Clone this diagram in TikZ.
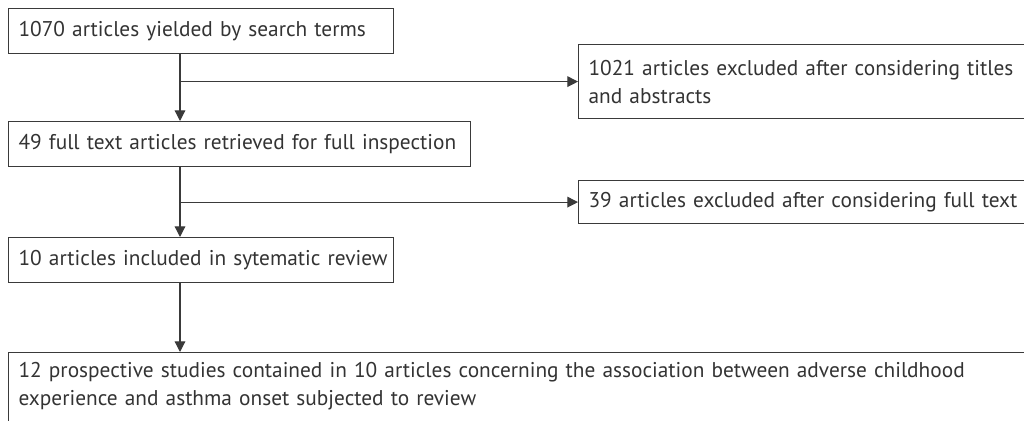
\documentclass[tikz,border=0pt]{standalone}
\usepackage{fontspec}
\setmainfont{PT Sans}
\usetikzlibrary{arrows.meta}
\definecolor{ink}{HTML}{333333}
\definecolor{edge}{HTML}{3A3A3A}
\tikzset{
  box/.style={draw=edge, line width=0.9pt, anchor=north west, align=left,
    inner xsep=7.5pt, text=ink, font=\fontsize{16pt}{21pt}\selectfont},
  arr/.style={draw=edge, line width=0.9pt, -{Triangle[length=8pt,width=8pt]}}
}
\begin{document}
\begin{tikzpicture}[x=0.75pt,y=-0.75pt]
\useasboundingbox (0,0) rectangle (1024,421);
\node[box, minimum width=288.75pt, minimum height=33.75pt, text width=273.75pt] (b1) at (8,8) {\mbox{1070 articles yielded by search terms}};
\node[box, minimum width=346.5pt, minimum height=33.75pt, text width=331.5pt] (b2) at (8,121) {\mbox{49 full text articles retrieved for full inspection}};
\node[box, minimum width=288.75pt, minimum height=33.75pt, text width=273.75pt] (b3) at (8,237) {\mbox{10 articles included in sytematic review}};
\node[box, text width=765pt, inner ysep=7pt] (b4) at (8,352) {12 prospective studies contained in 10 articles concerning the association between adverse childhood\\experience and asthma onset subjected to review\rule[-25pt]{0pt}{0pt}};
\node[box, minimum width=345pt, minimum height=55.5pt, text width=330pt] (r1) at (578,44) {1021 articles excluded after considering titles\\and abstracts};
\node[box, minimum width=345pt, minimum height=32.25pt, text width=330pt] (r2) at (578,180) {\mbox{39 articles excluded after considering full text}};
\coordinate (c) at (180,0);
\draw[arr] (b1.south -| c) -- (b2.north -| c);
\draw[arr] (c |- r1.west) -- (r1.west);
\draw[arr] (b2.south -| c) -- (b3.north -| c);
\draw[arr] (c |- r2.west) -- (r2.west);
\draw[arr] (b3.south -| c) -- (b4.north -| c);
\end{tikzpicture}
\end{document}
